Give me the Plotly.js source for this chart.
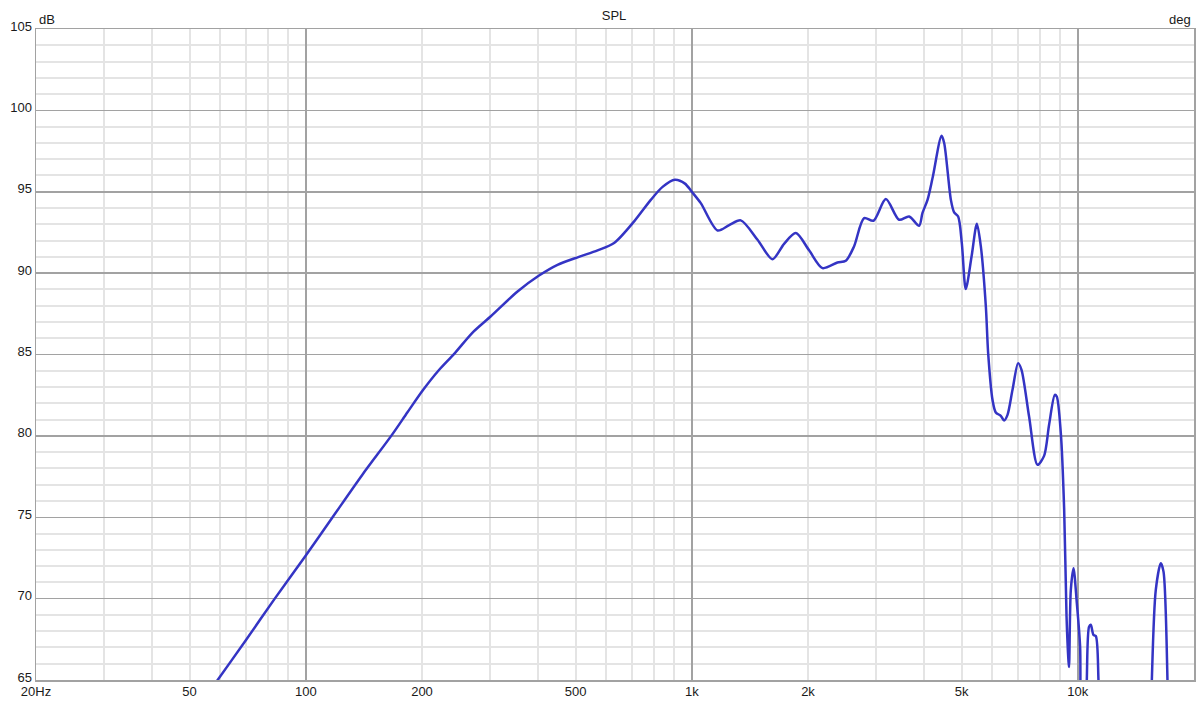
<!DOCTYPE html>
<html>
<head>
<meta charset="utf-8">
<script src="https://cdn.plot.ly/plotly-3.0.1.min.js"></script>
<style>
  html, body { margin: 0; padding: 0; background: #ffffff; }
  #chart { width: 1197px; height: 716px; }
</style>
</head>
<body>
<div id="chart"></div>
<script>
// Frequency (Hz) and SPL (dB)
const freqHz = [40, 50, 59.1, 70, 83.1, 100, 117.3, 140, 166.8, 183.4, 201, 221.6, 242.3, 270.4, 301.6, 353.6, 402, 448.8, 510, 570, 629, 709, 783, 840, 904, 960, 1000, 1055, 1166, 1250, 1339, 1480, 1618, 1734, 1860, 2013, 2180, 2384, 2506, 2632, 2795, 2956, 3182, 3443, 3656, 3880, 3960, 4080, 4204, 4436, 4506, 4690, 4782, 4898, 5006, 5126, 5306, 5477, 5608, 5778, 5858, 6012, 6131, 6318, 6442, 6575, 6774, 7004, 7148, 7478, 7864, 8178, 8426, 8718, 8820, 9036, 9218, 9350, 9462, 9490, 9592, 9748, 9942, 10138, 10300, 10450, 10552, 10696, 10805, 10980, 11133, 11312, 11500, 15300, 15554, 15924, 16408, 16674, 17074, 17300];
const splDb = [59.3, 62.6, 65.0, 67.46, 70.0, 72.65, 75.0, 77.6, 80.03, 81.45, 82.8, 84.06, 85.04, 86.35, 87.35, 88.87, 89.85, 90.51, 91.0, 91.4, 91.85, 93.18, 94.5, 95.3, 95.74, 95.5, 95.0, 94.3, 92.62, 92.95, 93.24, 92.05, 90.86, 91.8, 92.46, 91.4, 90.31, 90.65, 90.76, 91.64, 93.38, 93.22, 94.55, 93.28, 93.48, 92.91, 93.7, 94.5, 95.84, 98.44, 98.0, 94.5, 93.73, 93.48, 91.85, 89.02, 91.02, 93.03, 91.64, 87.95, 85.09, 82.22, 81.44, 81.23, 80.94, 81.29, 82.83, 84.47, 84.06, 81.19, 78.22, 78.77, 80.68, 82.52, 82.42, 80.17, 75.5, 68.9, 66.13, 65.8, 70.54, 71.87, 69.72, 67.05, 58, 58, 65, 68.28, 68.39, 67.77, 67.7, 65, 55, 55, 65, 70.54, 72.18, 71.66, 65, 55];

// Axis tick labels
const xTickVals = [20, 50, 100, 200, 500, 1000, 2000, 5000, 10000, 20000];
const xTickText = ["20Hz", "50", "100", "200", "500", "1k", "2k", "5k", "10k", "20k"];
const xMajorGrid = [100, 1000, 10000];
const xMinorGrid = [30, 40, 50, 60, 70, 80, 90, 200, 300, 400, 500, 600, 700, 800, 900, 2000, 3000, 4000, 5000, 6000, 7000, 8000, 9000];

const fontFam = '"Liberation Sans", Arial, sans-serif';
const textCol = '#1a1a1a';
const majorCol = '#a2a2a2';
const minorCol = '#e4e4e4';
const xRange = [Math.log10(20), Math.log10(20000)];

const traces = [
  {
    x: freqHz, y: splDb, type: 'scatter', mode: 'lines',
    line: { color: 'rgb(52,52,196)', width: 2.5, shape: 'spline', smoothing: 0.8 },
    xaxis: 'x', yaxis: 'y', hoverinfo: 'skip', showlegend: false
  },
  {
    x: [20, 20000], y: [null, null], type: 'scatter', mode: 'lines',
    xaxis: 'x2', yaxis: 'y', hoverinfo: 'skip', showlegend: false
  }
];

const layout = {
  width: 1197, height: 716,
  margin: { l: 36, r: 3, t: 29, b: 36 },
  paper_bgcolor: '#ffffff', plot_bgcolor: '#ffffff',
  font: { family: fontFam, size: 13, color: textCol },
  title: { text: 'SPL', x: 0.513, xanchor: 'center', y: 0.979, yanchor: 'middle', font: { family: fontFam, size: 13, color: textCol } },
  xaxis: {
    type: 'log', range: xRange,
    tickmode: 'array', tickvals: xMajorGrid, showticklabels: false, ticks: '',
    showgrid: true, gridcolor: majorCol, gridwidth: 1.5,
    minor: { tickmode: 'array', tickvals: xMinorGrid, showgrid: true, gridcolor: minorCol, gridwidth: 2, ticks: '' },
    showline: true, mirror: true, linecolor: majorCol, linewidth: 1.5,
    zeroline: false, fixedrange: true
  },
  xaxis2: {
    type: 'log', range: xRange, overlaying: 'x', anchor: 'y', side: 'bottom',
    tickmode: 'array', tickvals: xTickVals, ticktext: xTickText, ticks: '',
    showgrid: false, showline: false, zeroline: false, ticklabelstandoff: 2,
    tickfont: { family: fontFam, size: 13, color: textCol }, fixedrange: true
  },
  yaxis: {
    range: [65, 105], tickmode: 'linear', tick0: 65, dtick: 5, ticks: '',
    showgrid: true, gridcolor: majorCol, gridwidth: 1.5,
    minor: { dtick: 1, tick0: 65, showgrid: true, gridcolor: minorCol, gridwidth: 2, ticks: '' },
    showline: true, mirror: true, linecolor: majorCol, linewidth: 1.5,
    zeroline: false, ticklabelshift: -3, ticklabelstandoff: 0,
    tickfont: { family: fontFam, size: 13, color: textCol }, fixedrange: true
  },
  annotations: [
    { text: 'dB', xref: 'paper', yref: 'paper', x: 0, y: 1, xanchor: 'left', yanchor: 'bottom', xshift: 1, yshift: 0, showarrow: false, font: { family: fontFam, size: 13, color: textCol } },
    { text: 'deg', xref: 'paper', yref: 'paper', x: 1, y: 1, xanchor: 'right', yanchor: 'bottom', xshift: -1, yshift: 0, showarrow: false, font: { family: fontFam, size: 13, color: textCol } }
  ],
  showlegend: false
};

Plotly.newPlot('chart', traces, layout, { staticPlot: true, displayModeBar: false });
</script>
</body>
</html>
